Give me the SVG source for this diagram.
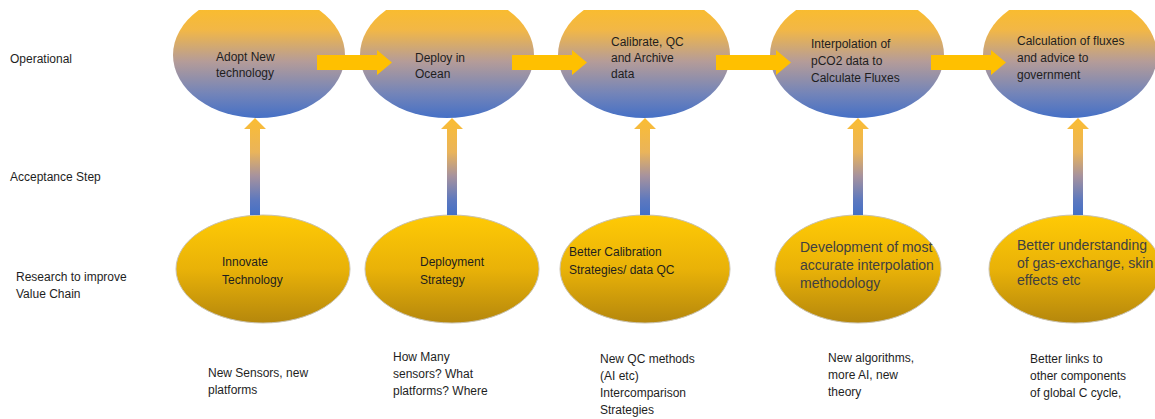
<svg xmlns="http://www.w3.org/2000/svg" width="1155" height="419" viewBox="0 0 1155 419">
<defs>
<linearGradient id="gTop" x1="0" y1="0" x2="0" y2="1">
<stop offset="0" stop-color="#ffc01c"/>
<stop offset="0.3" stop-color="#f2b746"/>
<stop offset="0.55" stop-color="#b59c98"/>
<stop offset="0.8" stop-color="#7585b8"/>
<stop offset="1" stop-color="#4570c6"/>
</linearGradient>
<linearGradient id="gBot" x1="0" y1="0" x2="0" y2="1">
<stop offset="0" stop-color="#ffca05"/>
<stop offset="0.5" stop-color="#e9b208"/>
<stop offset="1" stop-color="#b5870c"/>
</linearGradient>
<linearGradient id="gArr" x1="0" y1="0" x2="0" y2="1">
<stop offset="0" stop-color="#fbbd32"/>
<stop offset="0.35" stop-color="#eab45a"/>
<stop offset="0.6" stop-color="#a6929e"/>
<stop offset="0.85" stop-color="#5c78bf"/>
<stop offset="1" stop-color="#4470c6"/>
</linearGradient>
<clipPath id="topClip"><rect x="0" y="10" width="1155" height="120"/></clipPath>
<path id="vArrow" d="M-5,11 L-11,11 L0,0 L11,11 L5,11 L5,97 L-5,97 Z"/>
<path id="hArrow" d="M0,5 L60,5 L60,0 L75,12.5 L60,25 L60,20 L0,20 Z"/>
</defs>
<style>
.topE{fill:url(#gTop);}
.botE{fill:url(#gBot);stroke:#c9c2b0;stroke-width:1;}
.t{font-family:"Liberation Sans",Arial,sans-serif;font-size:12px;fill:#1e1e1e;}
.tl{font-family:"Liberation Sans",Arial,sans-serif;font-size:14px;fill:#404040;}
.ha{fill:#ffc000;}
.va{fill:url(#gArr);}
</style>

<g id="labels">
<text class="t" x="10" y="63">Operational</text>
<text class="t" x="10" y="181">Acceptance Step</text>
<text class="t" x="16" y="281">Research to improve</text>
<text class="t" x="16" y="298">Value Chain</text>
</g>

<g id="op-adopt" clip-path="url(#topClip)">
<ellipse class="topE" cx="259" cy="55" rx="86" ry="63"/>
<text class="t" x="216" y="61">Adopt New</text>
<text class="t" x="216" y="77">technology</text>
</g>
<g id="op-deploy" clip-path="url(#topClip)">
<ellipse class="topE" cx="447" cy="55" rx="87" ry="63"/>
<text class="t" x="415" y="62">Deploy in</text>
<text class="t" x="415" y="78">Ocean</text>
</g>
<g id="op-calibrate" clip-path="url(#topClip)">
<ellipse class="topE" cx="644" cy="55" rx="86" ry="63"/>
<text class="t" x="611" y="46">Calibrate, QC</text>
<text class="t" x="611" y="62">and Archive</text>
<text class="t" x="611" y="78">data</text>
</g>
<g id="op-interpolate" clip-path="url(#topClip)">
<ellipse class="topE" cx="857" cy="55" rx="87" ry="63"/>
<text class="t" x="811" y="48">Interpolation of</text>
<text class="t" x="811" y="65">pCO2 data to</text>
<text class="t" x="811" y="82">Calculate Fluxes</text>
</g>
<g id="op-fluxes" clip-path="url(#topClip)">
<ellipse class="topE" cx="1070" cy="55" rx="87" ry="63"/>
<text class="t" x="1017" y="45">Calculation of fluxes</text>
<text class="t" x="1017" y="62">and advice to</text>
<text class="t" x="1017" y="79">government</text>
</g>

<g id="rs-innovate">
<ellipse class="botE" cx="263" cy="269" rx="87" ry="54"/>
<text class="t" x="222" y="266">Innovate</text>
<text class="t" x="222" y="284">Technology</text>
</g>
<g id="rs-deployment">
<ellipse class="botE" cx="452" cy="269" rx="87" ry="54"/>
<text class="t" x="420" y="266">Deployment</text>
<text class="t" x="420" y="284">Strategy</text>
</g>
<g id="rs-calibration">
<ellipse class="botE" cx="645" cy="269" rx="85" ry="54"/>
<text class="t" x="569" y="256">Better Calibration</text>
<text class="t" x="569" y="274">Strategies/ data QC</text>
</g>
<g id="rs-interpolation">
<ellipse class="botE" cx="858" cy="269" rx="83" ry="54"/>
<text class="tl" x="800" y="252">Development of most</text>
<text class="tl" x="800" y="270">accurate interpolation</text>
<text class="tl" x="800" y="288">methodology</text>
</g>
<g id="rs-gasexchange">
<ellipse class="botE" cx="1075" cy="269" rx="86" ry="54"/>
<text class="tl" x="1017" y="250">Better understanding</text>
<text class="tl" x="1017" y="268">of gas-exchange, skin</text>
<text class="tl" x="1017" y="285">effects etc</text>
</g>

<g id="notes">
<text class="t" x="208" y="377">New Sensors, new</text>
<text class="t" x="208" y="394">platforms</text>
<text class="t" x="393" y="361">How Many</text>
<text class="t" x="393" y="378">sensors? What</text>
<text class="t" x="393" y="395">platforms? Where</text>
<text class="t" x="600" y="363">New QC methods</text>
<text class="t" x="600" y="380">(AI etc)</text>
<text class="t" x="600" y="397">Intercomparison</text>
<text class="t" x="600" y="414">Strategies</text>
<text class="t" x="828" y="362">New algorithms,</text>
<text class="t" x="828" y="379">more AI, new</text>
<text class="t" x="828" y="396">theory</text>
<text class="t" x="1030" y="363">Better links to</text>
<text class="t" x="1030" y="380">other components</text>
<text class="t" x="1030" y="397">of global C cycle,</text>
</g>

<g id="connectors">
<use href="#hArrow" class="ha" x="317" y="50"/>
<use href="#hArrow" class="ha" x="512" y="50"/>
<use href="#hArrow" class="ha" x="716" y="50"/>
<use href="#hArrow" class="ha" x="931" y="50"/>
<g class="va">
<use href="#vArrow" x="255" y="118"/>
<use href="#vArrow" x="452" y="118"/>
<use href="#vArrow" x="645" y="118"/>
<use href="#vArrow" x="858" y="118"/>
<use href="#vArrow" x="1078" y="118"/>
</g>
</g>
</svg>
